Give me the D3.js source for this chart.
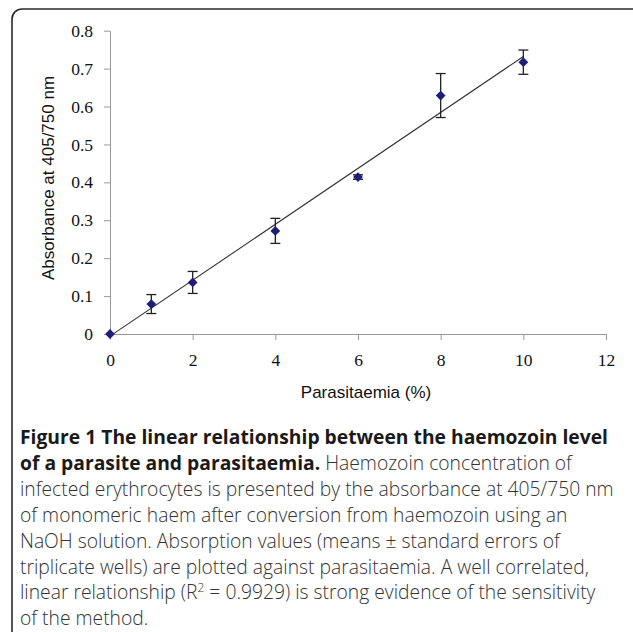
<!DOCTYPE html>
<html>
<head>
<meta charset="utf-8">
<script src="https://cdn.jsdelivr.net/npm/d3@7"></script>
<style>
  body { margin: 0; background: #fff; }
</style>
</head>
<body>
<script>
// parasitaemia (%) and absorbance at 405/750 nm
const parasitaemia = [0, 1, 2, 4, 6, 8, 10];
const absorbance = [0, 0.079, 0.136, 0.272, 0.414, 0.629, 0.717];
const stdErr = [0, 0.025, 0.029, 0.033, 0.006, 0.058, 0.032];

const xTicks = [0, 2, 4, 6, 8, 10, 12];
const yTicks = [0, 0.1, 0.2, 0.3, 0.4, 0.5, 0.6, 0.7, 0.8];

const captionBold = ["Figure 1 The linear relationship between the haemozoin level",
                     "of a parasite and parasitaemia."];
const captionRest = [
  " Haemozoin concentration of",
  "infected erythrocytes is presented by the absorbance at 405/750 nm",
  "of monomeric haem after conversion from haemozoin using an",
  "NaOH solution. Absorption values (means \u00b1 standard errors of",
  "triplicate wells) are plotted against parasitaemia. A well correlated,",
  ["linear relationship (R", "2", " = 0.9929) is strong evidence of the sensitivity"],
  "of the method."
];

let W = 633, H = 632;

const svg = d3.select("body").append("svg")
    .attr("width", W)
    .attr("height", H);

// frame round the figure, runs off the right and bottom edge
svg.append("rect")
    .attr("x", 12).attr("y", 9)
    .attr("width", 660).attr("height", 660)
    .attr("rx", 10)
    .attr("fill", "none")
    .attr("stroke", "#2a2a2a")
    .attr("stroke-width", 1.6);

let x = d3.scaleLinear().domain([0, 12]).range([110, 606]);
let y = d3.scaleLinear().domain([0, 0.8]).range([334, 30.7]);

let xAxis = svg.append("g")
    .attr("transform", "translate(0," + y(0) + ")")
    .call(d3.axisBottom(x).tickValues(xTicks).tickSize(6).tickSizeOuter(0).tickPadding(14));

let yAxis = svg.append("g")
    .attr("transform", "translate(" + x(0) + ",0)")
    .call(d3.axisLeft(y).tickValues(yTicks).tickSize(6).tickSizeOuter(0).tickPadding(11)
        .tickFormat(d => d === 0 ? "0" : d3.format(".1f")(d)));

[xAxis, yAxis].forEach(g => {
    g.select(".domain").attr("stroke", "#999");
    g.selectAll(".tick line").attr("stroke", "#999");
    g.selectAll(".tick text")
        .attr("font-family", "'Liberation Serif', 'Times New Roman', serif")
        .attr("font-size", "17.5px")
        .attr("fill", "#111");
});

// least squares trend line from the data
let mx = d3.mean(parasitaemia), my = d3.mean(absorbance);
let sxy = d3.sum(parasitaemia, (v, i) => (v - mx) * (absorbance[i] - my));
let sxx = d3.sum(parasitaemia, v => (v - mx) * (v - mx));
let slope = sxy / sxx;
let icpt = my - slope * mx;
let xEnds = d3.extent(parasitaemia);

svg.append("line")
    .attr("x1", x(xEnds[0])).attr("y1", y(icpt + slope * xEnds[0]))
    .attr("x2", x(xEnds[1])).attr("y2", y(icpt + slope * xEnds[1]))
    .attr("stroke", "#333")
    .attr("stroke-width", 1.1);

// error bars
let bars = svg.selectAll(".err")
    .data(parasitaemia.map((p, i) => ({p: p, a: absorbance[i], e: stdErr[i]})).filter(d => d.e > 0))
    .enter().append("g")
    .attr("class", "err")
    .attr("stroke", "#222")
    .attr("stroke-width", 1.3);

bars.append("line")
    .attr("x1", d => x(d.p)).attr("x2", d => x(d.p))
    .attr("y1", d => y(d.a - d.e)).attr("y2", d => y(d.a + d.e));
bars.append("line")
    .attr("x1", d => x(d.p) - 5).attr("x2", d => x(d.p) + 5)
    .attr("y1", d => y(d.a + d.e)).attr("y2", d => y(d.a + d.e));
bars.append("line")
    .attr("x1", d => x(d.p) - 5).attr("x2", d => x(d.p) + 5)
    .attr("y1", d => y(d.a - d.e)).attr("y2", d => y(d.a - d.e));

// diamond markers
svg.selectAll(".pt")
    .data(parasitaemia)
    .enter().append("path")
    .attr("class", "pt")
    .attr("d", d3.symbol(d3.symbolSquare, 48))
    .attr("transform", (d, i) => "translate(" + x(d) + "," + y(absorbance[i]) + ") rotate(45)")
    .attr("fill", "#1e1e7a");

// axis titles
svg.append("text")
    .attr("x", 366).attr("y", 398)
    .attr("text-anchor", "middle")
    .attr("font-family", "'Liberation Sans', Arial, sans-serif")
    .attr("font-size", "17px")
    .attr("fill", "#111")
    .text("Parasitaemia (%)");

svg.append("text")
    .attr("transform", "translate(54,178) rotate(-90)")
    .attr("text-anchor", "middle")
    .attr("font-family", "'Liberation Sans', Arial, sans-serif")
    .attr("font-size", "17px")
    .attr("fill", "#111")
    .text("Absorbance at 405/750 nm");

// caption
let cap = svg.append("g")
    .attr("font-family", "'Open Sans', sans-serif")
    .attr("font-size", "19.3px");

let lineH = 25.9, capTop = 444;

cap.append("text")
    .attr("x", 20).attr("y", capTop)
    .attr("font-weight", "bold").attr("fill", "#1a1a1a")
    .text(captionBold[0]);

let l2 = cap.append("text").attr("x", 20).attr("y", capTop + lineH);
l2.append("tspan").attr("font-weight", "bold").attr("fill", "#1a1a1a").text(captionBold[1]);
l2.append("tspan").attr("fill", "#333").attr("font-weight", 300).text(captionRest[0]);

captionRest.slice(1).forEach((s, i) => {
    let t = cap.append("text")
        .attr("x", 20).attr("y", capTop + lineH * (i + 2))
        .attr("fill", "#333").attr("font-weight", 300);
    if (typeof s === "string") {
        t.text(s);
    } else {
        t.append("tspan").text(s[0]);
        t.append("tspan").attr("font-size", "12px").attr("dy", -7).text(s[1]);
        t.append("tspan").attr("dy", 7).text(s[2]);
    }
});
</script>
</body>
</html>
